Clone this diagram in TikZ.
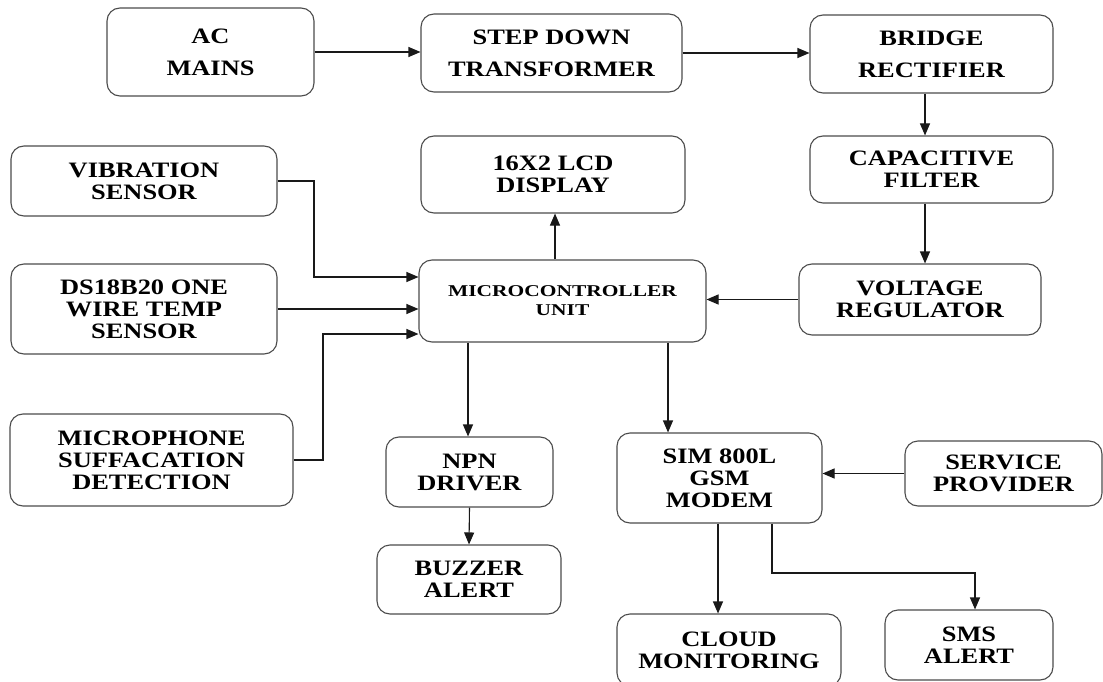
\documentclass[tikz,border=0pt]{standalone}
\usepackage{fontspec}
\newfontfamily\boxfont{Liberation Serif}[FakeStretch=1.2]
\newfontfamily\mcufont{Liberation Serif}[FakeStretch=1.3]
\usetikzlibrary{arrows.meta}
\begin{document}
\begin{tikzpicture}[x=1pt,y=-1pt,
  blk/.style={draw=black!70, line width=1.1pt, rounded corners=13pt, align=center,
    inner sep=0pt, text=black, font=\boxfont\bfseries\fontsize{22}{22}\selectfont},
  toprow/.style={blk, font=\boxfont\bfseries\fontsize{22}{32}\selectfont},
  mcustyle/.style={blk, font=\mcufont\bfseries\fontsize{16.5}{19}\selectfont},
  conn/.style={draw=black!90, line width=1.1pt, -{Triangle[length=12pt,width=10pt]}},
  wire/.style={draw=black!90, line width=1.1pt}]
\useasboundingbox (0,0) rectangle (1103,682);
\fill[white] (0,0) rectangle (1103,682);

% top row
\node[toprow, minimum width=207pt, minimum height=88pt] (ac) at (210.5,52) {AC\\MAINS};
\node[toprow, minimum width=261pt, minimum height=78pt] (stepdn) at (551.5,53) {STEP DOWN\\TRANSFORMER};
\node[toprow, minimum width=243pt, minimum height=78pt] (bridge) at (931.5,54) {BRIDGE\\RECTIFIER};

% second row
\node[blk, minimum width=266pt, minimum height=70pt] (vib) at (144,181) {VIBRATION\\SENSOR};
\node[blk, minimum width=264pt, minimum height=77pt] (lcd) at (553,174.5) {16X2 LCD\\DISPLAY};
\node[blk, minimum width=243pt, minimum height=67pt] (cap) at (931.5,169.5) {CAPACITIVE\\FILTER};

% third row
\node[blk, minimum width=266pt, minimum height=90pt] (ds) at (144,309) {DS18B20 ONE\\WIRE TEMP\\SENSOR};
\node[mcustyle, minimum width=287pt, minimum height=82pt] (mcu) at (562.5,301) {MICROCONTROLLER\\UNIT};
\node[blk, minimum width=242pt, minimum height=71pt] (vr) at (920,299.5) {VOLTAGE\\REGULATOR};

% fourth row
\node[blk, minimum width=283pt, minimum height=92pt] (mic) at (151.5,460) {MICROPHONE\\SUFFACATION\\DETECTION};
\node[blk, minimum width=167pt, minimum height=70pt] (npn) at (469.5,472) {NPN\\DRIVER};
\node[blk, minimum width=205pt, minimum height=90pt] (gsm) at (719.5,478) {SIM 800L\\GSM\\MODEM};
\node[blk, minimum width=197pt, minimum height=65pt] (sp) at (1003.5,473.5) {SERVICE\\PROVIDER};

% bottom row
\node[blk, minimum width=184pt, minimum height=69pt] (buzz) at (469,579.5) {BUZZER\\ALERT};
\node[blk, minimum width=224pt, minimum height=72pt] (cloud) at (729,650) {CLOUD\\MONITORING};
\node[blk, minimum width=168pt, minimum height=70pt] (sms) at (969,645) {SMS\\ALERT};

% helper coordinates
\coordinate (xfil) at (925,0);
\coordinate (xlcd) at (555,0);
\coordinate (xnpn) at (468,0);
\coordinate (xgsm) at (668,0);
\coordinate (xcld) at (718,0);
\coordinate (vibc) at (314,277);
\coordinate (micc) at (323,334);
\coordinate (smsa) at (772,573);
\coordinate (smsb) at (975,573);

% power chain
\draw[conn] (ac.east) -- (ac.east -| stepdn.west);
\draw[conn] (stepdn.east) -- (stepdn.east -| bridge.west);
\draw[conn] (bridge.south -| xfil) -- (cap.north -| xfil);
\draw[conn] (cap.south -| xfil) -- (vr.north -| xfil);
\draw[conn] (vr.west) -- (vr.west -| mcu.east);

% MCU outputs
\draw[conn] (mcu.north -| xlcd) -- (lcd.south -| xlcd);
\draw[conn] (mcu.south -| xnpn) -- (npn.north -| xnpn);
\draw[conn] (mcu.south -| xgsm) -- (gsm.north -| xgsm);
\draw[conn] (npn.south) -- (buzz.north);

% sensors
\draw[conn] (vib.east) -| (vibc) -- (vibc -| mcu.west);
\draw[conn] (ds.east) -- (ds.east -| mcu.west);
\draw[conn] (mic.east) -| (micc) -- (micc -| mcu.west);

% GSM
\draw[conn] (sp.west) -- (sp.west -| gsm.east);
\draw[conn] (gsm.south -| xcld) -- (cloud.north -| xcld);
\draw[conn] (gsm.south -| smsa) -- (smsa) -- (smsb) -- (sms.north -| smsb);
\end{tikzpicture}
\end{document}
